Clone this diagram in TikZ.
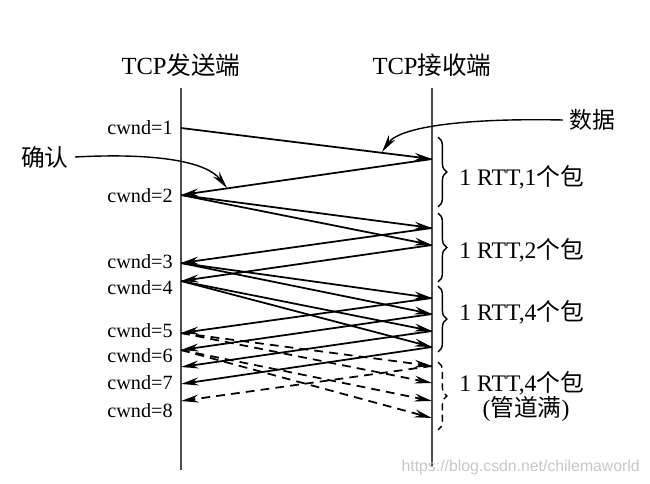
\documentclass[tikz,border=0pt]{standalone}
\usepackage{fontspec}
\setmainfont{Liberation Serif}
\newfontfamily\cjk{Noto Sans CJK SC}
\newfontfamily\wmfont{Liberation Sans}
\usetikzlibrary{arrows.meta,decorations.pathreplacing}

\begin{document}
\begin{tikzpicture}[x=0.02cm,y=-0.02cm,
        msg/.style={-{Stealth[length=10pt,width=4.5pt]}, line width=1pt},
        late/.style={msg, dash pattern=on 5pt off 3.5pt},
        life/.style={line width=1.1pt, black!70},
        cwndlbl/.style={anchor=east, inner sep=0pt, font=\fontsize{11.5}{13}\selectfont},
        rttlbl/.style={anchor=west, inner sep=0pt, font=\fontsize{13.5}{15}\selectfont},
        rttbrace/.style={decorate, decoration={brace, amplitude=5pt}, line width=0.8pt}]
        \useasboundingbox (0,0) rectangle (650,484);

        \node[font=\fontsize{14}{16}\selectfont] (sendhd) at (181,65) {TCP{\cjk 发送端}};
        \node[font=\fontsize{14}{16}\selectfont] (recvhd) at (432,65) {TCP{\cjk 接收端}};

        \coordinate (sendtop) at (181,88);
        \coordinate (sendbot) at (181,470);
        \coordinate (recvtop) at (432,88);
        \coordinate (recvbot) at (432,466);
        \draw[life] (sendtop) -- (sendbot);
        \draw[life] (recvtop) -- (recvbot);

        \coordinate (s1) at (181,128);
        \coordinate (s2) at (181,195);
        \coordinate (s3) at (181,263);
        \coordinate (s4) at (181,281);
        \coordinate (s5) at (181,333);
        \coordinate (s6) at (181,350);
        \coordinate (s7) at (181,367);
        \coordinate (s8) at (181,384);
        \coordinate (s9) at (181,401);

        \coordinate (r1) at (432,159);
        \coordinate (r2) at (432,228);
        \coordinate (r3) at (432,245);
        \coordinate (r4) at (432,298);
        \coordinate (r5) at (432,314);
        \coordinate (r6) at (432,331);
        \coordinate (r7) at (432,347);
        \coordinate (r8) at (432,366);
        \coordinate (r9) at (432,383);
        \coordinate (r10) at (432,401);
        \coordinate (r11) at (432,418);

        \node[cwndlbl] (c1) at (173,128) {cwnd=1};
        \node[cwndlbl] (c2) at (173,196) {cwnd=2};
        \node[cwndlbl] (c3) at (173,262) {cwnd=3};
        \node[cwndlbl] (c4) at (173,288) {cwnd=4};
        \node[cwndlbl] (c5) at (173,331) {cwnd=5};
        \node[cwndlbl] (c6) at (173,356) {cwnd=6};
        \node[cwndlbl] (c7) at (173,383) {cwnd=7};
        \node[cwndlbl] (c8) at (173,411) {cwnd=8};

        \draw[msg] (s1) -- (r1);
        \draw[msg] (r1) -- (s2);
        \draw[msg] (s2) -- (r2);
        \draw[msg] (s2) -- (r3);
        \draw[msg] (r2) -- (s3);
        \draw[msg] (r3) -- (s4);
        \draw[msg] (s3) -- (r4);
        \draw[msg] (s3) -- (r5);
        \draw[msg] (s4) -- (r6);
        \draw[msg] (s4) -- (r7);
        \draw[msg] (r4) -- (s5);
        \draw[msg] (r5) -- (s6);
        \draw[msg] (r6) -- (s7);
        \draw[msg] (r7) -- (s8);
        \draw[late] (s5) -- (r8);
        \draw[late] (s5) -- (r9);
        \draw[late] (s6) -- (r10);
        \draw[late] (s6) -- (r11);
        \draw[late] (r8) -- (s9);

        \node[font=\fontsize{13.5}{15}\selectfont\cjk] (ack) at (45,157) {确认};
        \node[font=\fontsize{13}{15}\selectfont\cjk] (data) at (592,120) {数据};
        \draw[msg, line width=0.8pt] (ack.east) .. controls (150,153) and (205,160) .. (227,188);
        \draw[msg, line width=0.8pt] (data.west) .. controls (470,118) and (400,126) .. (382,152);

        \draw[rttbrace] (438,137) -- (438,207);
        \draw[rttbrace] (438,213) -- (438,282);
        \draw[rttbrace] (438,286) -- (438,352);
        \draw[rttbrace, dash pattern=on 4pt off 2.5pt] (438,362) -- (438,430);

        \node[rttlbl] (rtt1) at (459,177) {1 RTT,1{\cjk 个包}};
        \node[rttlbl] (rtt2) at (459,250) {1 RTT,2{\cjk 个包}};
        \node[rttlbl] (rtt3) at (459,312) {1 RTT,4{\cjk 个包}};
        \node[rttlbl] (rtt4) at (459,383) {1 RTT,4{\cjk 个包}};
        \node[font=\fontsize{13.5}{15}\selectfont] (full) at (526,409) {({\cjk 管道满})};

        \node[anchor=east, text=black!22, font=\wmfont\fontsize{9}{10}\selectfont] (mark) at (646,467) {https://blog.csdn.net/chilemaworld};
\end{tikzpicture}
\end{document}
